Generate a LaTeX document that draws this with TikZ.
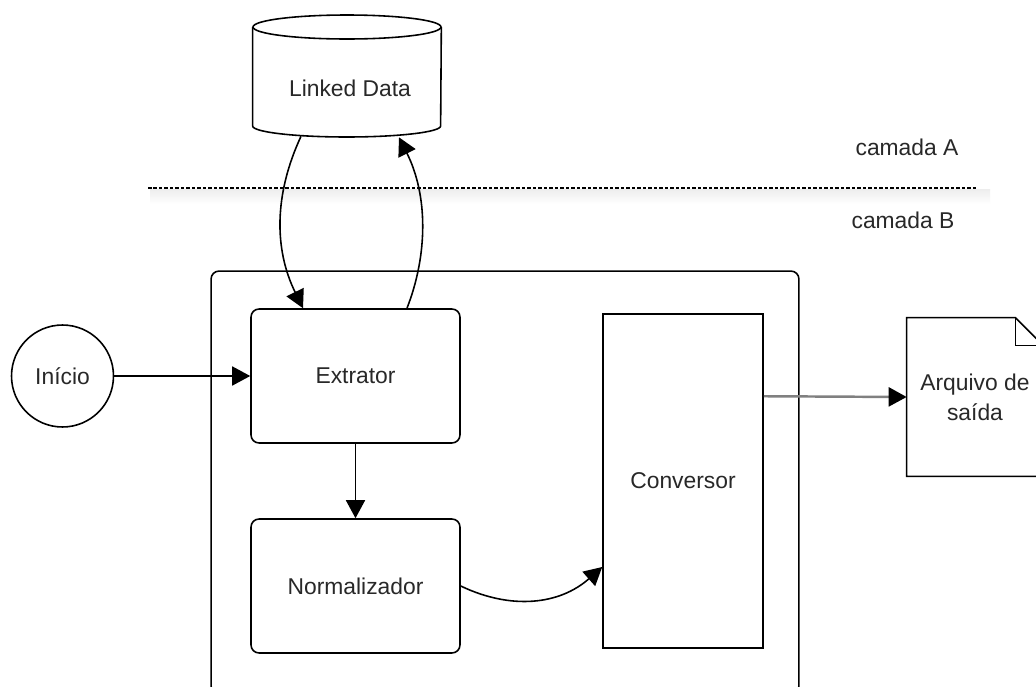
\documentclass[tikz,border=0pt]{standalone}
\usepackage{fontspec}
\setmainfont{Liberation Sans}
\usetikzlibrary{arrows.meta,calc}
\definecolor{ink}{RGB}{40,40,40}
\definecolor{pipe}{RGB}{128,128,128}

\begin{document}
\begin{tikzpicture}[x=0.02cm,y=-0.02cm,
  every node/.style={font=\fontsize{13}{17}\selectfont, text=ink},
  line/.style={line width=0.9pt, draw=black},
  tip/.style={-{Triangle[length=0.36cm,width=0.38cm,color=black]}},
  arr/.style={line, tip},
  stepbox/.style={draw, line width=0.9pt, rounded corners=0.16cm,
    minimum width=4.18cm, minimum height=2.68cm, fill=white},
]
\useasboundingbox (0,0) rectangle (1036,687);
\clip (0,0) rectangle (1036,687);
\fill[white] (0,0) rectangle (1036,687);

% layer separator and its soft shadow
\shade[top color=black!7, bottom color=white] (150,189) rectangle (990,204);
\coordinate (sepL) at (148,188);
\coordinate (sepR) at (977,188);
\draw[line width=0.9pt, dash pattern=on 0.07cm off 0.04cm] (sepL) -- (sepR);
\node (camA) at (907,147) {camada A};
\node (camB) at (903,220) {camada B};

% Linked Data store
\node[minimum width=3.76cm, minimum height=2.44cm, inner sep=0] (ld) at (347,76) {};
\filldraw[line, fill=white] (ld.west |- 0,27) -- (ld.west |- 0,126)
  arc[start angle=180, end angle=360, x radius=1.88cm, y radius=0.22cm]
  -- (ld.east |- 0,27);
\filldraw[line, fill=white] (ld.north |- 0,27) ellipse[x radius=1.88cm, y radius=0.24cm];
\node (ldtext) at (350,88) {Linked Data};

% processing group
\node[draw, line width=0.9pt, rounded corners=0.16cm,
  minimum width=11.76cm, minimum height=8.46cm] (grp) at (505,482.5) {};

\node[stepbox] (ext) at (355.5,376) {Extrator};
\node[stepbox] (norm) at (355.5,586) {Normalizador};
\node[draw, line width=0.9pt, minimum width=3.2cm, minimum height=6.68cm,
  fill=white] (conv) at (683,481) {Conversor};

% start event
\node[circle, draw, line width=0.9pt, minimum size=2.04cm, inner sep=0] (ini) at (62.5,376) {Início};

% output document with folded corner
\node[minimum width=2.72cm, minimum height=3.16cm, inner sep=0] (doc) at (975,397) {};
\draw[line, fill=white] (doc.north west) -- ($(doc.north east)+(-28,0)$)
  -- ($(doc.north east)+(0,28)$) -- (doc.south east) -- (doc.south west) -- cycle;
\draw[line] ($(doc.north east)+(-28,0)$) -- ($(doc.north east)+(-28,28)$)
  -- ($(doc.north east)+(0,28)$);
\node[align=center, inner sep=0] (doctext) at (975,397) {Arquivo de\\saída};

% connectors
\draw[arr] (ini.east) -- (ext.west);
\draw[arr] ($(ld.south)+(-46,-1)$) .. controls +(-27,58) and +(-29,-59) .. ($(ext.north)+(-52.5,0)$);
\draw[arr] ($(ext.north)+(51.5,0)$) .. controls +(21,-54) and +(29,58) .. ($(ld.south)+(52,0)$);
\draw[arr] (ext.south) -- (norm.north);
\draw[arr] (norm.east) .. controls +(50,24) and +(-43,38) .. ($(conv.west)+(0,86)$);
\draw[line width=1.4pt, draw=pipe, tip] ($(conv.north east)+(0,83)$) -- (doc.west);
\end{tikzpicture}
\end{document}
